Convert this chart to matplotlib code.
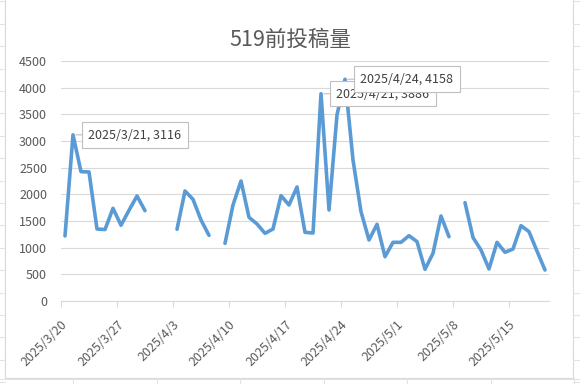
"""
Daily post volume before 5/19, Excel-style line chart
"""
import matplotlib
matplotlib.use("Agg")
import matplotlib.pyplot as plt
import numpy as np
import pandas as pd

plt.rcParams["font.family"] = ["Noto Sans CJK SC", "DejaVu Sans"]

TITLE = "519前投稿量"
START, END = "2025-03-20", "2025-05-19"

# one value per day, None where the sheet has no entry
posts = [
    1220, 3116, 2425, 2420, 1350, 1340, 1738, 1420, 1700, 1969,
    1694, None, None, None, 1345, 2063, 1906, 1519, 1231, None,
    1081, 1800, 2250, 1569, 1444, 1269, 1350, 1975, 1800, 2138,
    1288, 1275, 3886, 1706, 3490, 4158, 2644, 1675, 1144, 1438,
    831, 1100, 1100, 1225, 1113, 594, 894, 1594, 1206, None,
    1844, 1190, 956, 600, 1100, 913, 975, 1413, 1300, 935,
    581,
]
labelled = ["2025-03-21", "2025-04-21", "2025-04-24"]
y_ticks = [0, 500, 1000, 1500, 2000, 2500, 3000, 3500, 4000, 4500]

BLUE = "#5B9BD5"
TEXT = "#595959"
GRID = "#D9D9D9"
CELL = "#E3E3E3"

W, H = 580, 384
dates = pd.date_range(START, END, freq="D")
vals = np.array([np.nan if v is None else v for v in posts], dtype=float)
series = pd.Series(vals, index=dates)

fig = plt.figure(figsize=(W / 100, H / 100), dpi=100)

# spreadsheet cells peeking out around the chart object
bg = fig.add_axes([0, 0, 1, 1])
bg.set_xlim(0, W)
bg.set_ylim(H, 0)
bg.axis("off")
for y in np.arange(1.4, H, 22.4):
    bg.plot([0, 5], [y, y], color=CELL, lw=0.8)
    bg.plot([573, W], [y, y], color=CELL, lw=0.8)
for x in np.arange(73, W, 83.5):
    bg.plot([x, x], [378, H], color=CELL, lw=0.8)
bg.plot([0, W], [378.5, 378.5], color=CELL, lw=0.8)
bg.add_patch(plt.Rectangle((5, -2), 568, 380, facecolor="white",
                           edgecolor=GRID, lw=0.8))

ax = fig.add_axes([61 / W, 1 - 301 / H, 488 / W, 240 / H])
ax.set_facecolor("none")
half = pd.Timedelta(hours=12)
ax.plot(series.index, series.values, color=BLUE, lw=2.6,
        solid_joinstyle="round", solid_capstyle="round", zorder=3)

ax.set_xlim(dates[0] - half, dates[-1] + half)
ax.set_ylim(y_ticks[0], y_ticks[-1])
ax.set_yticks(y_ticks)
ax.yaxis.grid(True, color=GRID, lw=0.8)
ax.set_axisbelow(True)

week = dates[::7]
ax.set_xticks(week - half)
ax.set_xticklabels([f"{d.year}/{d.month}/{d.day}" for d in week],
                   rotation=45, ha="right", rotation_mode="anchor")

for side in ["left", "right", "top"]:
    ax.spines[side].set_visible(False)
ax.spines["bottom"].set_color(GRID)
ax.spines["bottom"].set_linewidth(0.8)
ax.tick_params(axis="y", length=0, pad=10, labelsize=9, labelcolor=TEXT)
ax.tick_params(axis="x", length=4, width=0.8, color=GRID, pad=8,
               labelsize=9, labelcolor=TEXT)

for d in labelled:
    t = pd.Timestamp(d)
    v = series[t]
    ax.annotate(f"{t.year}/{t.month}/{t.day}, {int(v)}", (t, v),
                xytext=(11, 0), textcoords="offset points",
                ha="left", va="center", fontsize=9, color="#404040",
                bbox=dict(boxstyle="square,pad=0.5", fc="white",
                          ec="#BFBFBF", lw=0.8),
                arrowprops=dict(arrowstyle="-", color="#BFBFBF", lw=0.8,
                                shrinkA=0, shrinkB=2),
                zorder=5)

fig.text(0.5, 1 - 40 / H, TITLE, ha="center", va="center",
         fontsize=15.5, color=TEXT)

fig.savefig("out.png", dpi=100)
